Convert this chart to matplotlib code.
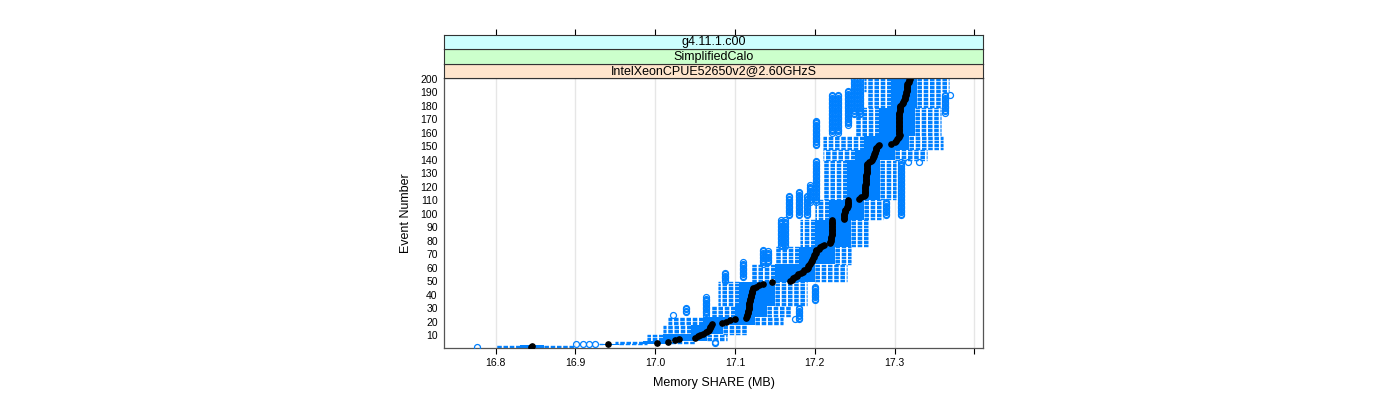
import matplotlib
matplotlib.use("Agg")
import matplotlib.pyplot as plt
from matplotlib.collections import LineCollection

plt.rcParams["font.family"] = ["Liberation Sans", "DejaVu Sans"]

strip_labels = ["IntelXeonCPUE52650v2@2.60GHzS", "SimplifiedCalo", "g4.11.1.c00"]
strip_colors = ["#ffe5cc", "#ccffcc", "#ccffff"]
x_ticks = [16.8, 16.9, 17.0, 17.1, 17.2, 17.3, 17.4]
x_ticklabels = ["16.8", "16.9", "17.0", "17.1", "17.2", "17.3", ""]
y_ticks = list(range(10, 201, 10))

events = list(range(1, 201))

# per-event five-number summaries, 10 events per line
median = [
    16.844, 16.846, 16.941, 17.002, 17.016, 17.025, 17.030, 17.050, 17.053, 17.056,
    17.060, 17.064, 17.066, 17.067, 17.068, 17.069, 17.070, 17.071, 17.084, 17.088,
    17.094, 17.100, 17.114, 17.115, 17.115, 17.116, 17.116, 17.116, 17.117, 17.117,
    17.117, 17.118, 17.118, 17.118, 17.119, 17.119, 17.119, 17.120, 17.120, 17.120,
    17.121, 17.121, 17.121, 17.122, 17.123, 17.126, 17.130, 17.135, 17.146, 17.169,
    17.171, 17.173, 17.175, 17.177, 17.179, 17.182, 17.185, 17.187, 17.190, 17.191,
    17.192, 17.193, 17.194, 17.195, 17.196, 17.197, 17.198, 17.199, 17.199, 17.200,
    17.201, 17.201, 17.202, 17.205, 17.207, 17.209, 17.211, 17.219, 17.219, 17.220,
    17.220, 17.220, 17.220, 17.221, 17.221, 17.221, 17.221, 17.221, 17.222, 17.222,
    17.222, 17.222, 17.222, 17.222, 17.222, 17.236, 17.236, 17.237, 17.237, 17.237,
    17.238, 17.238, 17.238, 17.240, 17.240, 17.241, 17.241, 17.242, 17.242, 17.242,
    17.255, 17.258, 17.261, 17.263, 17.263, 17.263, 17.263, 17.263, 17.263, 17.263,
    17.263, 17.264, 17.264, 17.264, 17.264, 17.264, 17.264, 17.264, 17.264, 17.265,
    17.265, 17.265, 17.265, 17.265, 17.265, 17.265, 17.265, 17.268, 17.270, 17.272,
    17.273, 17.273, 17.274, 17.274, 17.275, 17.275, 17.276, 17.276, 17.277, 17.279,
    17.280, 17.296, 17.300, 17.302, 17.303, 17.304, 17.305, 17.307, 17.306, 17.305,
    17.305, 17.305, 17.305, 17.305, 17.305, 17.305, 17.305, 17.306, 17.306, 17.306,
    17.306, 17.306, 17.306, 17.306, 17.306, 17.307, 17.307, 17.307, 17.307, 17.307,
    17.309, 17.310, 17.311, 17.312, 17.313, 17.313, 17.313, 17.314, 17.314, 17.314,
    17.315, 17.315, 17.315, 17.315, 17.316, 17.316, 17.317, 17.318, 17.318, 17.319,
]
whislo = [
    16.800, 16.800, 16.930, 16.950, 16.950, 16.990, 16.990, 16.990, 16.990, 16.990,
    17.010, 17.010, 17.010, 17.010, 17.010, 17.010, 17.010, 17.016, 17.016, 17.016,
    17.016, 17.016, 17.016, 17.069, 17.069, 17.069, 17.069, 17.069, 17.069, 17.069,
    17.069, 17.079, 17.079, 17.079, 17.079, 17.079, 17.079, 17.079, 17.079, 17.079,
    17.079, 17.079, 17.079, 17.079, 17.079, 17.079, 17.079, 17.079, 17.079, 17.120,
    17.120, 17.120, 17.120, 17.120, 17.120, 17.120, 17.120, 17.120, 17.120, 17.120,
    17.120, 17.120, 17.150, 17.150, 17.150, 17.150, 17.150, 17.150, 17.150, 17.150,
    17.150, 17.150, 17.150, 17.150, 17.150, 17.181, 17.181, 17.181, 17.181, 17.181,
    17.181, 17.181, 17.181, 17.181, 17.181, 17.181, 17.181, 17.181, 17.181, 17.181,
    17.181, 17.181, 17.181, 17.181, 17.181, 17.200, 17.200, 17.200, 17.200, 17.200,
    17.200, 17.200, 17.200, 17.200, 17.200, 17.200, 17.200, 17.200, 17.200, 17.200,
    17.210, 17.210, 17.210, 17.210, 17.210, 17.210, 17.210, 17.210, 17.210, 17.210,
    17.210, 17.210, 17.210, 17.210, 17.210, 17.210, 17.210, 17.210, 17.210, 17.210,
    17.210, 17.210, 17.210, 17.210, 17.210, 17.210, 17.210, 17.210, 17.210, 17.210,
    17.210, 17.210, 17.210, 17.210, 17.210, 17.210, 17.210, 17.210, 17.210, 17.210,
    17.210, 17.210, 17.210, 17.210, 17.210, 17.210, 17.210, 17.250, 17.250, 17.250,
    17.250, 17.250, 17.250, 17.250, 17.250, 17.250, 17.250, 17.250, 17.250, 17.250,
    17.250, 17.250, 17.250, 17.250, 17.250, 17.250, 17.250, 17.250, 17.265, 17.265,
    17.265, 17.265, 17.265, 17.265, 17.265, 17.265, 17.265, 17.265, 17.265, 17.265,
    17.262, 17.262, 17.262, 17.262, 17.262, 17.262, 17.262, 17.262, 17.262, 17.262,
]
q1 = [
    16.830, 16.830, 16.935, 16.985, 16.985, 17.010, 17.010, 17.010, 17.010, 17.010,
    17.045, 17.045, 17.045, 17.045, 17.045, 17.045, 17.045, 17.060, 17.060, 17.060,
    17.060, 17.060, 17.060, 17.100, 17.100, 17.100, 17.100, 17.100, 17.100, 17.100,
    17.100, 17.105, 17.105, 17.105, 17.105, 17.105, 17.105, 17.105, 17.105, 17.105,
    17.105, 17.105, 17.105, 17.105, 17.105, 17.105, 17.105, 17.105, 17.105, 17.150,
    17.150, 17.150, 17.150, 17.150, 17.150, 17.150, 17.150, 17.150, 17.150, 17.150,
    17.150, 17.150, 17.180, 17.180, 17.180, 17.180, 17.180, 17.180, 17.180, 17.180,
    17.180, 17.180, 17.180, 17.180, 17.180, 17.200, 17.200, 17.200, 17.200, 17.200,
    17.200, 17.200, 17.200, 17.200, 17.200, 17.200, 17.200, 17.200, 17.200, 17.200,
    17.200, 17.200, 17.200, 17.200, 17.200, 17.218, 17.218, 17.218, 17.218, 17.218,
    17.218, 17.218, 17.218, 17.218, 17.218, 17.218, 17.218, 17.218, 17.218, 17.218,
    17.240, 17.240, 17.240, 17.240, 17.240, 17.240, 17.240, 17.240, 17.240, 17.240,
    17.240, 17.240, 17.240, 17.240, 17.240, 17.240, 17.240, 17.240, 17.240, 17.240,
    17.240, 17.240, 17.240, 17.240, 17.240, 17.240, 17.240, 17.240, 17.240, 17.250,
    17.250, 17.250, 17.250, 17.250, 17.250, 17.250, 17.250, 17.262, 17.262, 17.262,
    17.262, 17.262, 17.262, 17.262, 17.262, 17.262, 17.262, 17.280, 17.280, 17.280,
    17.280, 17.280, 17.280, 17.280, 17.280, 17.280, 17.280, 17.280, 17.280, 17.280,
    17.280, 17.280, 17.280, 17.280, 17.280, 17.280, 17.280, 17.280, 17.295, 17.295,
    17.295, 17.295, 17.295, 17.295, 17.295, 17.295, 17.295, 17.295, 17.295, 17.295,
    17.295, 17.295, 17.295, 17.295, 17.295, 17.295, 17.295, 17.295, 17.295, 17.295,
]
q3 = [
    16.860, 16.860, 16.955, 17.020, 17.020, 17.065, 17.065, 17.065, 17.065, 17.065,
    17.085, 17.085, 17.085, 17.085, 17.085, 17.085, 17.085, 17.125, 17.125, 17.125,
    17.125, 17.125, 17.125, 17.140, 17.140, 17.140, 17.140, 17.140, 17.140, 17.140,
    17.140, 17.150, 17.150, 17.150, 17.150, 17.150, 17.150, 17.150, 17.150, 17.150,
    17.150, 17.150, 17.150, 17.150, 17.150, 17.150, 17.150, 17.150, 17.150, 17.200,
    17.200, 17.200, 17.200, 17.200, 17.200, 17.200, 17.200, 17.200, 17.200, 17.200,
    17.200, 17.200, 17.225, 17.225, 17.225, 17.225, 17.225, 17.225, 17.225, 17.225,
    17.225, 17.225, 17.225, 17.225, 17.225, 17.245, 17.245, 17.245, 17.245, 17.245,
    17.245, 17.245, 17.245, 17.245, 17.245, 17.245, 17.245, 17.245, 17.245, 17.245,
    17.245, 17.245, 17.245, 17.245, 17.245, 17.262, 17.262, 17.262, 17.262, 17.262,
    17.262, 17.262, 17.262, 17.262, 17.262, 17.262, 17.262, 17.262, 17.262, 17.262,
    17.282, 17.282, 17.282, 17.282, 17.282, 17.282, 17.282, 17.282, 17.282, 17.282,
    17.282, 17.282, 17.282, 17.282, 17.282, 17.282, 17.282, 17.282, 17.282, 17.282,
    17.282, 17.282, 17.282, 17.282, 17.282, 17.282, 17.282, 17.282, 17.282, 17.300,
    17.300, 17.300, 17.300, 17.300, 17.300, 17.300, 17.300, 17.318, 17.318, 17.318,
    17.318, 17.318, 17.318, 17.318, 17.318, 17.318, 17.318, 17.325, 17.325, 17.325,
    17.325, 17.325, 17.325, 17.325, 17.325, 17.325, 17.325, 17.325, 17.325, 17.325,
    17.325, 17.325, 17.325, 17.325, 17.325, 17.325, 17.325, 17.325, 17.328, 17.328,
    17.328, 17.328, 17.328, 17.328, 17.328, 17.328, 17.328, 17.328, 17.328, 17.328,
    17.328, 17.328, 17.328, 17.328, 17.328, 17.328, 17.328, 17.328, 17.328, 17.328,
]
whishi = [
    16.900, 16.900, 16.990, 17.050, 17.050, 17.090, 17.090, 17.090, 17.090, 17.090,
    17.115, 17.115, 17.115, 17.115, 17.115, 17.115, 17.115, 17.160, 17.160, 17.160,
    17.160, 17.160, 17.160, 17.170, 17.170, 17.170, 17.170, 17.170, 17.170, 17.170,
    17.170, 17.190, 17.190, 17.190, 17.190, 17.190, 17.190, 17.190, 17.190, 17.190,
    17.190, 17.190, 17.190, 17.190, 17.190, 17.190, 17.190, 17.190, 17.190, 17.240,
    17.240, 17.240, 17.240, 17.240, 17.240, 17.240, 17.240, 17.240, 17.240, 17.240,
    17.240, 17.240, 17.245, 17.245, 17.245, 17.245, 17.245, 17.245, 17.245, 17.245,
    17.245, 17.245, 17.245, 17.245, 17.245, 17.268, 17.268, 17.268, 17.268, 17.268,
    17.268, 17.268, 17.268, 17.268, 17.268, 17.268, 17.268, 17.268, 17.268, 17.268,
    17.268, 17.268, 17.268, 17.268, 17.268, 17.285, 17.285, 17.285, 17.285, 17.285,
    17.285, 17.285, 17.285, 17.285, 17.285, 17.285, 17.285, 17.285, 17.285, 17.285,
    17.302, 17.302, 17.302, 17.302, 17.302, 17.302, 17.302, 17.302, 17.302, 17.302,
    17.302, 17.302, 17.302, 17.302, 17.302, 17.302, 17.302, 17.302, 17.302, 17.302,
    17.302, 17.302, 17.302, 17.302, 17.302, 17.302, 17.302, 17.302, 17.302, 17.340,
    17.340, 17.340, 17.340, 17.340, 17.340, 17.340, 17.340, 17.360, 17.360, 17.360,
    17.360, 17.360, 17.360, 17.360, 17.360, 17.360, 17.360, 17.358, 17.358, 17.358,
    17.358, 17.358, 17.358, 17.358, 17.358, 17.358, 17.358, 17.358, 17.358, 17.358,
    17.358, 17.358, 17.358, 17.358, 17.358, 17.358, 17.358, 17.358, 17.358, 17.358,
    17.358, 17.358, 17.358, 17.358, 17.358, 17.358, 17.358, 17.358, 17.358, 17.358,
    17.368, 17.368, 17.368, 17.368, 17.368, 17.368, 17.368, 17.368, 17.368, 17.368,
]

# outliers: one value shared by a run of consecutive events (first..last)
out_value = [16.776, 16.901, 16.909, 16.917, 16.925, 17.022, 17.039, 17.063,
             17.087, 17.110, 17.135, 17.141, 17.157, 17.163, 17.167, 17.180,
             17.190, 17.194, 17.202, 17.202, 17.221, 17.229, 17.242, 17.249,
             17.257, 17.075, 17.175, 17.180, 17.200, 17.289, 17.308, 17.317,
             17.330, 17.363, 17.369]
out_first = [1, 3, 3, 3, 3, 25, 27, 25,
             50, 53, 63, 64, 76, 76, 99, 99,
             99, 109, 109, 151, 160, 160, 166, 174,
             174, 4, 22, 22, 36, 99, 99, 138,
             138, 175, 188]
out_last = [1, 3, 3, 3, 3, 25, 30, 38,
            56, 64, 73, 72, 95, 95, 113, 116,
            113, 121, 139, 169, 188, 188, 191, 200,
            200, 5, 22, 30, 46, 109, 138, 138,
            138, 188, 188]

blue = "#0080ff"

fig = plt.figure(figsize=(14, 4), dpi=100)
ax = fig.add_axes([0.31714, 0.13, 0.385, 0.675])
ax.set_xlim(16.7352, 17.4107)
ax.set_ylim(0.4, 200.6)

for t in x_ticks:
    ax.axvline(t, color="#e6e6e6", lw=1, zorder=0)

# boxes
ax.barh(events, [b - a for a, b in zip(q1, q3)], left=q1, height=1.0,
        color=blue, lw=0, zorder=2)

# dashed whiskers, drawn from the box edge outwards
segs = []
for e, lo, a, b, hi in zip(events, whislo, q1, q3, whishi):
    segs.append([(a, e), (lo, e)])
    segs.append([(b, e), (hi, e)])
ax.add_collection(LineCollection(segs, colors=blue, linewidths=1.0,
                                 linestyles=[(0, (3.2, 1.3))], zorder=1))

ox, oy = [], []
for v, a, b in zip(out_value, out_first, out_last):
    for e in range(a, b + 1):
        ox.append(v)
        oy.append(e)
ax.plot(ox, oy, "o", ms=4.3, mfc="none", mec=blue, mew=0.9, zorder=3)

ax.plot(median, events, "o", color="black", ms=3.8, zorder=4)

ax.set_xticks(x_ticks, x_ticklabels)
ax.set_yticks(y_ticks)
ax.tick_params(axis="x", direction="out", length=4, width=0.8, labelsize=7.5, pad=3)
ax.tick_params(axis="y", length=0, labelsize=7.5, pad=4.5)
for s in ax.spines.values():
    s.set_color("#555555")
    s.set_linewidth(0.9)
ax.set_xlabel("Memory SHARE (MB)", fontsize=9, labelpad=7)
ax.set_ylabel("Event Number", fontsize=9, labelpad=6)

# strips above the panel
h = 0.0358
for i, (lab, col) in enumerate(zip(strip_labels, strip_colors)):
    sax = fig.add_axes([0.31714, 0.805 + i * h, 0.385, h])
    sax.set_facecolor(col)
    sax.set_xlim(ax.get_xlim())
    sax.set_yticks([])
    sax.text(0.5, 0.5, lab, ha="center", va="center", fontsize=9,
             transform=sax.transAxes)
    for s in sax.spines.values():
        s.set_color("#333333")
        s.set_linewidth(0.8)
    if i == len(strip_labels) - 1:
        sax.set_xticks(x_ticks)
        sax.tick_params(axis="x", top=True, bottom=False, labeltop=False,
                        labelbottom=False, direction="out", length=4, width=0.8)
    else:
        sax.set_xticks([])

fig.savefig("out.png", dpi=100)
